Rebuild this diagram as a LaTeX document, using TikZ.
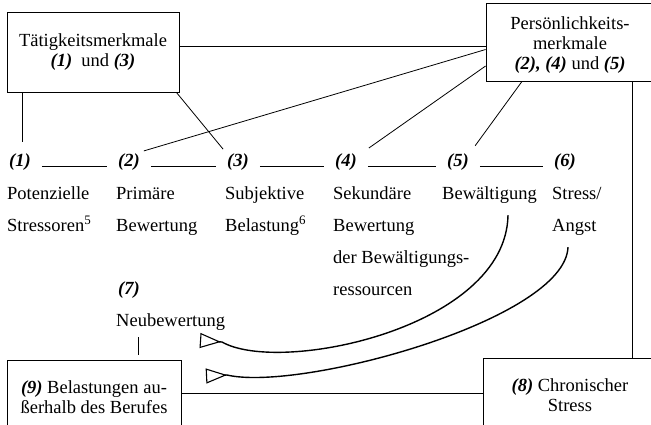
\documentclass[tikz,border=0pt]{standalone}
\usepackage{fontspec}
\setmainfont{Liberation Serif}
\usetikzlibrary{arrows.meta}
\newcommand\labbi[1]{{\bfseries\itshape #1}}
\begin{document}
\begin{tikzpicture}[x=1pt,y=-1pt,
  every node/.style={font=\fontsize{18.5}{20}\selectfont},
  boxnode/.style={draw, line width=0.8pt, align=center, inner sep=0pt},
  lab/.style={font=\fontsize{18.5}{20}\selectfont\bfseries\itshape, inner sep=2pt, anchor=base west},
  txt/.style={font=\fontsize{18.5}{32}\selectfont, align=left, inner sep=0pt, anchor=base west},
  conn/.style={line width=0.8pt},
  dashline/.style={line width=0.8pt, shorten <=9pt, shorten >=9pt},
  curv/.style={line width=1.4pt, -{Triangle[open, reversed, length=21pt, width=15pt, line width=1.1pt]}}
]
\useasboundingbox (0,0) rectangle (651,424);
\clip (0,0) rectangle (651,424);

% boxes
\node[boxnode, minimum width=172pt, minimum height=80pt] (tat) at (93,52)
  {Tätigkeitsmerkmale\\ \labbi{(1)}\ \ und \labbi{(3)}};
\node[boxnode, minimum width=168pt, minimum height=78pt] (pers) at (570,42)
  {\rule{0pt}{19pt}Persönlichkeits-\\ merkmale\\ \labbi{(2), (4)} und \labbi{(5)}};
\node[boxnode, minimum width=174pt, minimum height=74pt] (b9) at (94,397)
  {\labbi{(9)} Belastungen au-\\ ßerhalb des Berufes};
\node[boxnode, minimum width=174pt, minimum height=74pt] (b8) at (570,395)
  {\labbi{(8)} Chronischer\\ Stress};

% step labels
\node[lab] (l1) at (7,166.5) {(1)};
\node[lab] (l2) at (116,166.5) {(2)};
\node[lab] (l3) at (225,166.5) {(3)};
\node[lab] (l4) at (333,166.5) {(4)};
\node[lab] (l5) at (445,166.5) {(5)};
\node[lab] (l6) at (552,166.5) {(6)};
\node[lab] (l7) at (116,294.5) {(7)};

% step texts (base anchor = baseline of last line)
\node[txt] (t1) at (7,231) {Potenzielle\\ Stressoren\textsuperscript{5}};
\node[txt] (t2) at (116,231) {Primäre\\ Bewertung};
\node[txt] (t3) at (225,231) {Subjektive\\ Belastung\textsuperscript{6}};
\node[txt] (t4) at (333,295) {Sekundäre\\ Bewertung\\ der Bewältigungs-\\ ressourcen};
\node[txt] (t5) at (442,199) {Bewältigung};
\node[txt] (t6) at (552,231) {Stress/\\ Angst};
\node[txt] (t7) at (116,326) {Neubewertung};

% row connectors
\draw[dashline] (l1.base east) -- (l2.base west);
\draw[dashline] (l2.base east) -- (l3.base west);
\draw[dashline] (l3.base east) -- (l4.base west);
\draw[dashline] (l4.base east) -- (l5.base west);
\draw[dashline] (l5.base east) -- (l6.base west);

% box connectors
\draw[conn] ([yshift=6pt]tat.east) -- ([yshift=-4pt]pers.west);
\draw[conn, shorten >=9pt] ([xshift=2pt]tat.south -| l1.north) -- ([xshift=2pt]l1.north);
\draw[conn, shorten >=3pt] ([xshift=-3pt]tat.south east) -- (l3.north west);
\draw[conn, shorten >=2pt] ([yshift=-7.5pt]pers.west) -- (l2.north east);
\draw[conn, shorten >=6pt] ([yshift=-24pt]pers.west) -- ([xshift=5pt]l4.north east);
\draw[conn, shorten >=7pt] ([xshift=-48pt]pers.south) -- (l5.north east);
\draw[conn] ([xshift=62pt]pers.south) -- ([xshift=62pt]b8.north);
\draw[conn] ([yshift=4pt]b9.east) -- ([yshift=2pt]b8.west);
\coordinate (nl) at ([xshift=22pt]t7.south west);
\draw[conn, shorten >=5pt] ([yshift=-7pt]nl) -- (nl |- b9.north);

% feedback curves
\coordinate (p1) at (222,342);
\coordinate (a1) at (200,340.5);
\coordinate (p2) at (227,375);
\coordinate (a2) at (206,376);
\draw[curv] ([xshift=66pt,yshift=-12pt]t5.south west) .. controls (506,328) and (280,375) .. (p1) -- (a1);
\draw[curv] ([xshift=16pt,yshift=-12pt]t6.south west) .. controls (565,320) and (300,392) .. (p2) -- (a2);
\end{tikzpicture}
\end{document}
